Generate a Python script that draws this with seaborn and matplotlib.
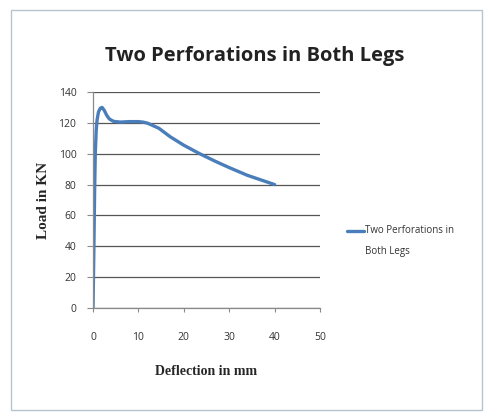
import matplotlib
matplotlib.use("Agg")
import matplotlib.pyplot as plt
from matplotlib.patches import Rectangle
import pandas as pd
import seaborn as sns

# Load-deflection curve
deflection = [0, 0.2, 0.35, 0.5, 0.7, 0.9, 1.2, 1.6, 2.0, 2.5, 3.0, 3.6, 4.5, 6, 8, 10,
              11, 12, 13, 14.5, 17, 20, 23.5, 27, 30, 34, 37, 40]
load = [0, 40, 75, 100, 115, 122, 127, 129.5, 130, 128, 125, 122.5, 121, 120.5, 120.8, 120.8,
        120.5, 119.8, 118.5, 116.5, 111, 105.5, 100, 95, 91, 86, 83, 80]
series_name = "Two Perforations in\nBoth Legs"
x_ticks = [0, 10, 20, 30, 40, 50]
y_ticks = [0, 20, 40, 60, 80, 100, 120, 140]

df = pd.DataFrame({"Deflection": deflection, "Load": load})

sns.set_style("white")
fig = plt.figure(figsize=(4.88, 4.15), dpi=100)
ax = fig.add_axes([0.1906, 0.2578, 0.4652, 0.5205])

sns.lineplot(data=df, x="Deflection", y="Load", ax=ax, color="#4a7ebb",
             linewidth=2.4, estimator=None, sort=False, label=series_name)

ax.set_xlim(0, 50)
ax.set_ylim(0, 140)
ax.set_xticks(x_ticks)
ax.set_yticks(y_ticks)
ax.yaxis.grid(True, color="#555555", linewidth=0.9)
ax.xaxis.grid(False)
for side in ["top", "right"]:
    ax.spines[side].set_visible(False)
for side in ["left", "bottom"]:
    ax.spines[side].set_color("#8a8a8a")
    ax.spines[side].set_linewidth(0.9)
ax.tick_params(axis="both", labelsize=7.5, colors="#8a8a8a", labelcolor="#333333",
               length=4, direction="out", left=True, bottom=True)
ax.tick_params(axis="x", pad=14, length=3)
ax.tick_params(axis="y", pad=8)
for lab in ax.get_xticklabels() + ax.get_yticklabels():
    lab.set_family("Open Sans")

ax.set_xlabel("Deflection in mm", family="Liberation Serif", fontweight="bold",
              fontsize=10, labelpad=16)
ax.set_ylabel("Load in KN", family="Liberation Serif", fontweight="bold",
              fontsize=11, labelpad=6)

fig.text(0.522, 0.865, "Two Perforations in Both Legs", ha="center", va="center",
         family="Open Sans", fontweight="bold", fontsize=14.5, color="#222222")

leg = ax.legend(loc="center left", bbox_to_anchor=(1.08, 0.31), frameon=False,
                handlelength=1.8, handletextpad=0.1, prop={"family": "Open Sans", "size": 7})
for t in leg.get_texts():
    t.set_color("#333333")
    t.set_linespacing(2.2)
# line the legend key up with the first text line, as in the reference
for ln in leg.get_lines():
    ln.set_ydata([v + 8 for v in ln.get_ydata()])

fig.patches.append(Rectangle((0.022, 0.012), 0.965, 0.963, transform=fig.transFigure,
                             fill=False, edgecolor="#b8c4cc", linewidth=1.0))

fig.savefig("out.png", dpi=100)
